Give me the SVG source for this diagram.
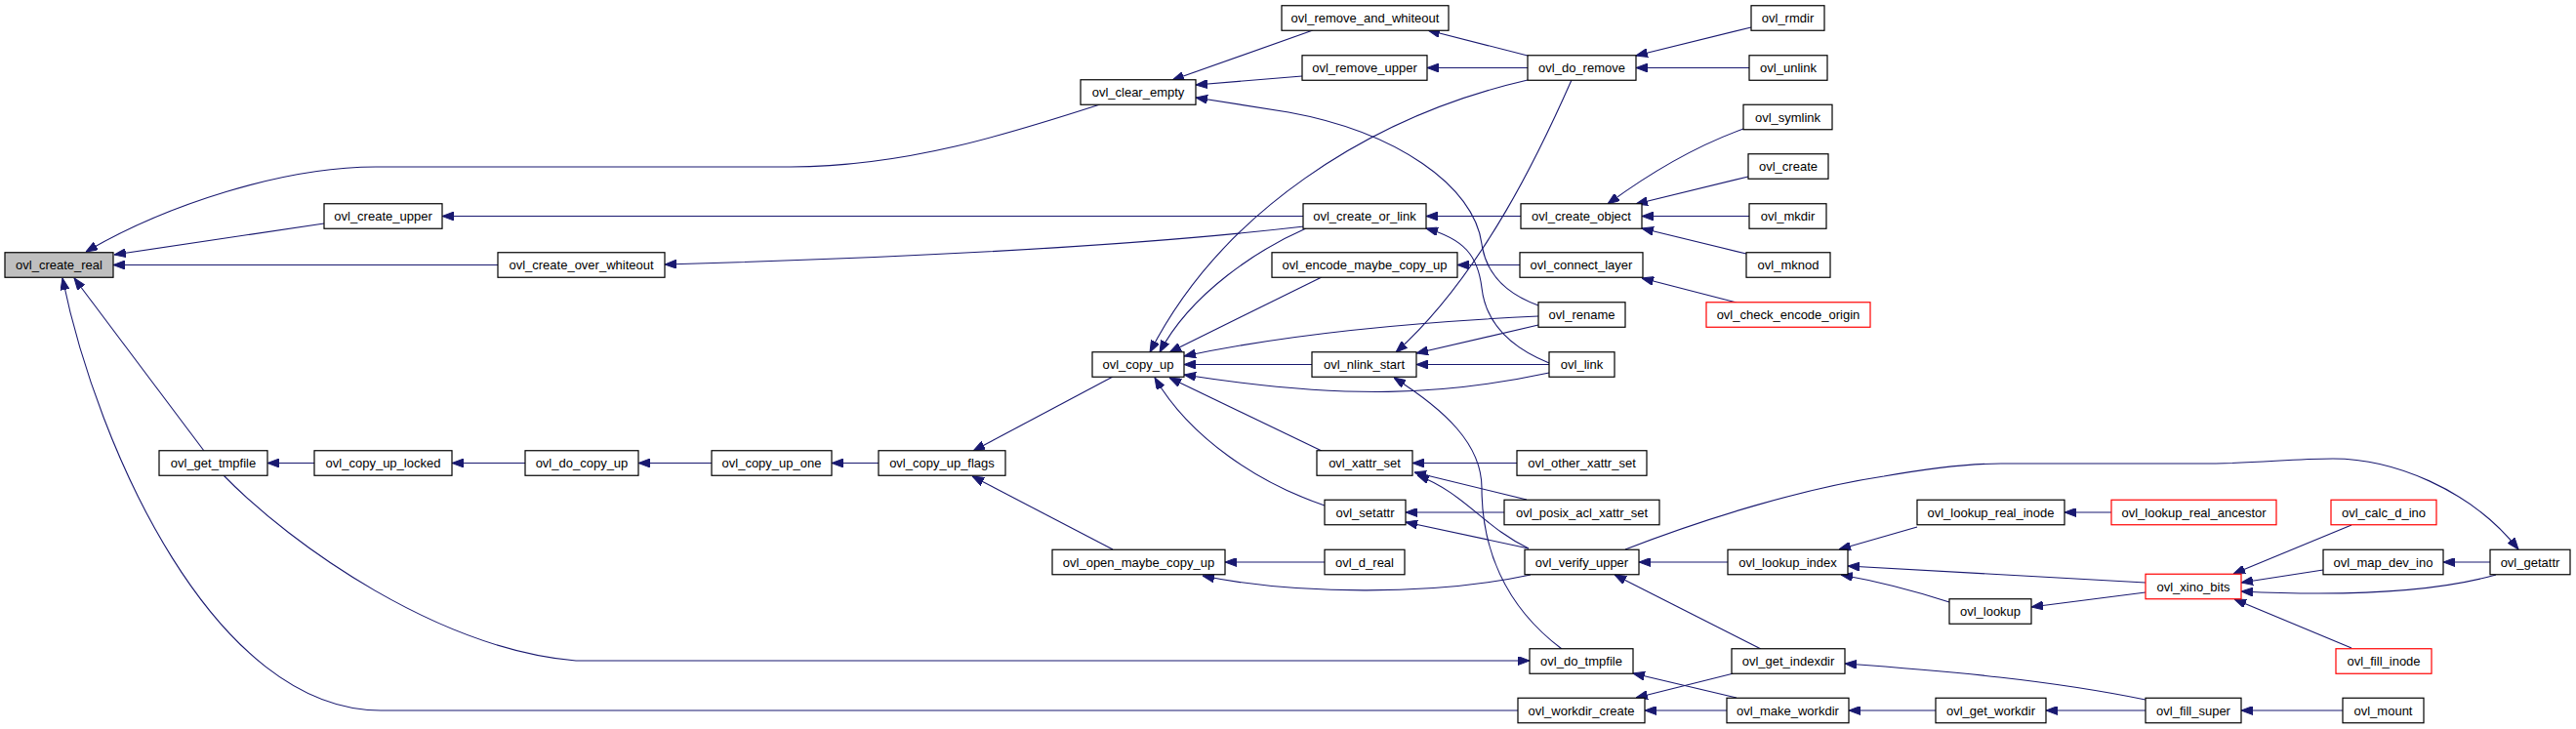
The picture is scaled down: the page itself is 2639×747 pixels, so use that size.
<svg xmlns="http://www.w3.org/2000/svg" width="2639" height="747" viewBox="0 0 2639 747">
<defs>
<marker id="ah" markerWidth="12" markerHeight="9" refX="12" refY="4.5" orient="auto" markerUnits="userSpaceOnUse"><path d="M0,0 L12,4.5 L0,9 z" fill="#191970" stroke="#191970" stroke-width="1"/></marker>
<style>
.node rect{fill:#ffffff;stroke:#000000;stroke-width:1.2}
.node.hl rect{fill:#bfbfbf}
.node.tr rect{stroke:#ff0000}
.node text{font-family:"Liberation Sans",Arial,Helvetica,sans-serif;font-size:13px;text-anchor:middle;fill:#000000}
#edges path{fill:none;stroke:#191970;stroke-width:1.1;marker-end:url(#ah)}
</style>
</defs>
<rect x="0" y="0" width="2639" height="747" fill="#ffffff"/>
<g id="edges">
<path d="M1127,107 C1040,135 930,171 810,171 L385,171 C290,171 170,210 88,258"/>
<path d="M332,229 L117,261"/>
<path d="M510,271.5 L116,271.5"/>
<path d="M209,462 L76,285"/>
<path d="M1555,728 L390,728 C220,728 100,460 64,285"/>
<path d="M229,487 C300,560 450,665 590,677 L1567,677"/>
<path d="M322,474.5 L274,474.5"/>
<path d="M538,474.5 L463,474.5"/>
<path d="M729,474.5 L654,474.5"/>
<path d="M900,474.5 L852,474.5"/>
<path d="M1140,386 L997,462"/>
<path d="M1140,563 L996,488"/>
<path d="M1357,576 L1255,576"/>
<path d="M1568,589 C1470,610 1330,610 1232,590"/>
<path d="M1565,82 C1400,120 1250,220 1178,361"/>
<path d="M1338,234 C1290,255 1220,300 1188,361"/>
<path d="M1354,284 L1198,361"/>
<path d="M1576,324 C1450,330 1320,342 1213,365"/>
<path d="M1344,373.5 L1213,373.5"/>
<path d="M1587,382 C1480,405 1380,410 1213,384"/>
<path d="M1354,462 L1198,387"/>
<path d="M1357,518 C1290,495 1220,450 1183,387"/>
<path d="M1345,31 L1201,82"/>
<path d="M1334,78 L1225,87"/>
<path d="M1576,313 C1540,300 1522,278 1518,250 C1510,190 1430,135 1320,115 L1225,100"/>
<path d="M1587,372 C1545,355 1522,330 1518,295 C1514,262 1500,245 1461,234"/>
<path d="M1565,57 L1463,31"/>
<path d="M1565,69.5 L1462,69.5"/>
<path d="M1794,28 L1676,57"/>
<path d="M1792,69.5 L1676,69.5"/>
<path d="M1610,82 C1580,150 1520,280 1430,361"/>
<path d="M1558,221.5 L1461,221.5"/>
<path d="M1335,221.5 L453,221.5"/>
<path d="M1336,232 C1200,248 1000,262 681,271"/>
<path d="M1786,132 C1750,145 1700,170 1647,209"/>
<path d="M1791,181 L1676,209"/>
<path d="M1792,221.5 L1682,221.5"/>
<path d="M1789,260 L1682,234"/>
<path d="M1557,271.5 L1493,271.5"/>
<path d="M1779,310 L1682,285"/>
<path d="M1576,333 L1451,362"/>
<path d="M1587,373.5 L1451,373.5"/>
<path d="M1600,665 C1540,620 1518,560 1518,500 C1518,455 1480,420 1428,387"/>
<path d="M1554,474.5 L1447,474.5"/>
<path d="M1564,512 L1449,484"/>
<path d="M1566,562 C1520,540 1500,505 1452,487"/>
<path d="M1566,562 L1440,535"/>
<path d="M1541,525 L1440,525"/>
<path d="M1770,576 L1679,576"/>
<path d="M1665,563 C1750,530 1850,500 1930,488 C1970,481 2010,475 2050,475 L2270,475 C2320,474 2350,470 2390,470 C2450,470 2530,500 2580,563"/>
<path d="M1804,665 L1654,589"/>
<path d="M1776,690 L1676,715"/>
<path d="M1769,728 L1685,728"/>
<path d="M1779,715 L1673,690"/>
<path d="M1983,728 L1894,728"/>
<path d="M2198,717 C2100,697 2000,688 1890,680"/>
<path d="M2198,728 L2096,728"/>
<path d="M2400,728 L2296,728"/>
<path d="M2163,525 L2115,525"/>
<path d="M1964,540 L1884,563"/>
<path d="M2198,597 C2100,592 2000,586 1893,580"/>
<path d="M1997,617 C1960,605 1920,595 1886,589"/>
<path d="M2198,607 L2081,622"/>
<path d="M2409,538 L2288,588"/>
<path d="M2380,584 L2296,597"/>
<path d="M2557,589 C2500,605 2420,612 2296,606"/>
<path d="M2409,664 L2289,614"/>
<path d="M2551,576 L2503,576"/>
</g>
<g id="n_ovl_create_real" class="node hl"><rect x="5" y="258.75" width="111" height="25.5"/><text x="60.5" y="276">ovl_create_real</text></g>
<g id="n_ovl_clear_empty" class="node"><rect x="1107" y="81.75" width="118" height="25.5"/><text x="1166" y="99">ovl_clear_empty</text></g>
<g id="n_ovl_create_upper" class="node"><rect x="332" y="208.75" width="121" height="25.5"/><text x="392.5" y="226">ovl_create_upper</text></g>
<g id="n_ovl_create_over_whiteout" class="node"><rect x="510" y="258.75" width="171" height="25.5"/><text x="595.5" y="276">ovl_create_over_whiteout</text></g>
<g id="n_ovl_get_tmpfile" class="node"><rect x="163" y="461.75" width="111" height="25.5"/><text x="218.5" y="479">ovl_get_tmpfile</text></g>
<g id="n_ovl_workdir_create" class="node"><rect x="1555" y="715.25" width="130" height="25.5"/><text x="1620" y="732.5">ovl_workdir_create</text></g>
<g id="n_ovl_remove_and_whiteout" class="node"><rect x="1313" y="5.75" width="171" height="25.5"/><text x="1398.5" y="23">ovl_remove_and_whiteout</text></g>
<g id="n_ovl_remove_upper" class="node"><rect x="1334" y="56.75" width="128" height="25.5"/><text x="1398" y="74">ovl_remove_upper</text></g>
<g id="n_ovl_link" class="node"><rect x="1587" y="360.75" width="67" height="25.5"/><text x="1620.5" y="378">ovl_link</text></g>
<g id="n_ovl_do_remove" class="node"><rect x="1565" y="56.75" width="111" height="25.5"/><text x="1620.5" y="74">ovl_do_remove</text></g>
<g id="n_ovl_rmdir" class="node"><rect x="1794" y="5.75" width="75" height="25.5"/><text x="1831.5" y="23">ovl_rmdir</text></g>
<g id="n_ovl_unlink" class="node"><rect x="1792" y="56.75" width="80" height="25.5"/><text x="1832" y="74">ovl_unlink</text></g>
<g id="n_ovl_create_or_link" class="node"><rect x="1335" y="208.75" width="126" height="25.5"/><text x="1398" y="226">ovl_create_or_link</text></g>
<g id="n_ovl_create_object" class="node"><rect x="1558" y="208.75" width="124" height="25.5"/><text x="1620" y="226">ovl_create_object</text></g>
<g id="n_ovl_symlink" class="node"><rect x="1786" y="107.25" width="91" height="25.5"/><text x="1831.5" y="124.5">ovl_symlink</text></g>
<g id="n_ovl_create" class="node"><rect x="1791" y="157.75" width="82" height="25.5"/><text x="1832" y="175">ovl_create</text></g>
<g id="n_ovl_mkdir" class="node"><rect x="1792" y="208.75" width="79" height="25.5"/><text x="1831.5" y="226">ovl_mkdir</text></g>
<g id="n_ovl_mknod" class="node"><rect x="1789" y="258.75" width="86" height="25.5"/><text x="1832" y="276">ovl_mknod</text></g>
<g id="n_ovl_copy_up_locked" class="node"><rect x="322" y="461.75" width="141" height="25.5"/><text x="392.5" y="479">ovl_copy_up_locked</text></g>
<g id="n_ovl_do_copy_up" class="node"><rect x="538" y="461.75" width="116" height="25.5"/><text x="596" y="479">ovl_do_copy_up</text></g>
<g id="n_ovl_copy_up_one" class="node"><rect x="729" y="461.75" width="123" height="25.5"/><text x="790.5" y="479">ovl_copy_up_one</text></g>
<g id="n_ovl_copy_up_flags" class="node"><rect x="900" y="461.75" width="130" height="25.5"/><text x="965" y="479">ovl_copy_up_flags</text></g>
<g id="n_ovl_copy_up" class="node"><rect x="1119" y="360.75" width="94" height="25.5"/><text x="1166" y="378">ovl_copy_up</text></g>
<g id="n_ovl_open_maybe_copy_up" class="node"><rect x="1078" y="563.25" width="177" height="25.5"/><text x="1166.5" y="580.5">ovl_open_maybe_copy_up</text></g>
<g id="n_ovl_encode_maybe_copy_up" class="node"><rect x="1303" y="258.75" width="190" height="25.5"/><text x="1398" y="276">ovl_encode_maybe_copy_up</text></g>
<g id="n_ovl_connect_layer" class="node"><rect x="1557" y="258.75" width="126" height="25.5"/><text x="1620" y="276">ovl_connect_layer</text></g>
<g id="n_ovl_check_encode_origin" class="node tr"><rect x="1748" y="309.75" width="168" height="25.5"/><text x="1832" y="327">ovl_check_encode_origin</text></g>
<g id="n_ovl_rename" class="node"><rect x="1576" y="309.75" width="89" height="25.5"/><text x="1620.5" y="327">ovl_rename</text></g>
<g id="n_ovl_nlink_start" class="node"><rect x="1344" y="360.75" width="107" height="25.5"/><text x="1397.5" y="378">ovl_nlink_start</text></g>
<g id="n_ovl_xattr_set" class="node"><rect x="1349" y="461.75" width="98" height="25.5"/><text x="1398" y="479">ovl_xattr_set</text></g>
<g id="n_ovl_other_xattr_set" class="node"><rect x="1554" y="461.75" width="133" height="25.5"/><text x="1620.5" y="479">ovl_other_xattr_set</text></g>
<g id="n_ovl_setattr" class="node"><rect x="1357" y="512.25" width="83" height="25.5"/><text x="1398.5" y="529.5">ovl_setattr</text></g>
<g id="n_ovl_posix_acl_xattr_set" class="node"><rect x="1541" y="512.25" width="159" height="25.5"/><text x="1620.5" y="529.5">ovl_posix_acl_xattr_set</text></g>
<g id="n_ovl_d_real" class="node"><rect x="1357" y="563.25" width="82" height="25.5"/><text x="1398" y="580.5">ovl_d_real</text></g>
<g id="n_ovl_verify_upper" class="node"><rect x="1562" y="563.25" width="117" height="25.5"/><text x="1620.5" y="580.5">ovl_verify_upper</text></g>
<g id="n_ovl_do_tmpfile" class="node"><rect x="1567" y="664.75" width="106" height="25.5"/><text x="1620" y="682">ovl_do_tmpfile</text></g>
<g id="n_ovl_lookup_index" class="node"><rect x="1770" y="563.25" width="123" height="25.5"/><text x="1831.5" y="580.5">ovl_lookup_index</text></g>
<g id="n_ovl_lookup_real_inode" class="node"><rect x="1964" y="512.25" width="151" height="25.5"/><text x="2039.5" y="529.5">ovl_lookup_real_inode</text></g>
<g id="n_ovl_lookup_real_ancestor" class="node tr"><rect x="2163" y="512.25" width="169" height="25.5"/><text x="2247.5" y="529.5">ovl_lookup_real_ancestor</text></g>
<g id="n_ovl_xino_bits" class="node tr"><rect x="2198" y="588.25" width="98" height="25.5"/><text x="2247" y="605.5">ovl_xino_bits</text></g>
<g id="n_ovl_lookup" class="node"><rect x="1997" y="613.75" width="84" height="25.5"/><text x="2039" y="631">ovl_lookup</text></g>
<g id="n_ovl_calc_d_ino" class="node tr"><rect x="2388" y="512.25" width="108" height="25.5"/><text x="2442" y="529.5">ovl_calc_d_ino</text></g>
<g id="n_ovl_map_dev_ino" class="node"><rect x="2380" y="563.25" width="123" height="25.5"/><text x="2441.5" y="580.5">ovl_map_dev_ino</text></g>
<g id="n_ovl_getattr" class="node"><rect x="2551" y="563.25" width="82" height="25.5"/><text x="2592" y="580.5">ovl_getattr</text></g>
<g id="n_ovl_fill_inode" class="node tr"><rect x="2393" y="664.75" width="98" height="25.5"/><text x="2442" y="682">ovl_fill_inode</text></g>
<g id="n_ovl_get_indexdir" class="node"><rect x="1774" y="664.75" width="116" height="25.5"/><text x="1832" y="682">ovl_get_indexdir</text></g>
<g id="n_ovl_make_workdir" class="node"><rect x="1769" y="715.25" width="125" height="25.5"/><text x="1831.5" y="732.5">ovl_make_workdir</text></g>
<g id="n_ovl_get_workdir" class="node"><rect x="1983" y="715.25" width="113" height="25.5"/><text x="2039.5" y="732.5">ovl_get_workdir</text></g>
<g id="n_ovl_fill_super" class="node"><rect x="2198" y="715.25" width="98" height="25.5"/><text x="2247" y="732.5">ovl_fill_super</text></g>
<g id="n_ovl_mount" class="node"><rect x="2400" y="715.25" width="83" height="25.5"/><text x="2441.5" y="732.5">ovl_mount</text></g>
</svg>
